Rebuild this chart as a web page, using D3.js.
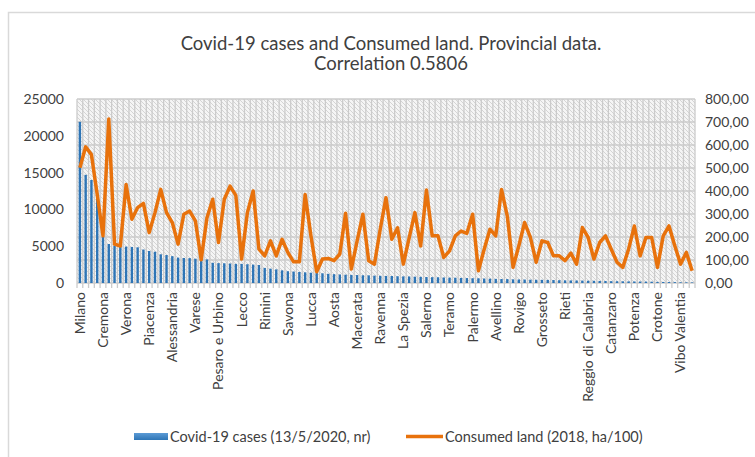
<!DOCTYPE html>
<html><head><meta charset="utf-8">
<script src="https://cdn.jsdelivr.net/npm/d3@7"></script>
<style>body{margin:0;background:#fff}svg{display:block}text{font-family:Lato,"Open Sans",sans-serif}</style>
</head><body><svg id="c" width="755" height="457"></svg>
<script>
const provinces = ["Milano","Torino","Brescia","Bergamo","Cremona","Roma","Genova","Monza e della Brianza","Verona","Pavia",
"Reggio nell'Emilia","Trento","Piacenza","Bologna","Padova","Modena","Alessandria","Treviso","Parma","Lodi",
"Varese","Bolzano","Napoli","Cuneo","Pesaro e Urbino","Venezia","Firenze","Mantova","Lecco","Novara",
"Vicenza","Como","Rimini","Asti","Sondrio","Massa Carrara","Savona","Ancona","Biella","Bari",
"Lucca","Verbano-Cusio-Ossola","Pescara","Forlì-Cesena","Aosta","Imperia","Vercelli","Trieste","Macerata","Foggia",
"Udine","Pistoia","Ravenna","Ferrara","Pisa","Perugia","La Spezia","Arezzo","Belluno","Pordenone",
"Salerno","Caserta","Catania","Prato","Teramo","Chieti","Livorno","Lecce","Palermo","Siena",
"L'Aquila","Cosenza","Avellino","Latina","Gorizia","Fermo","Rovigo","Frosinone","Taranto","Messina",
"Grosseto","Viterbo","Brindisi","Ascoli Piceno","Rieti","Barletta-Andria-Trani","Terni","Cagliari","Reggio di Calabria","Sassari",
"Campobasso","Siracusa","Catanzaro","Isernia","Benevento","Sud Sardegna","Potenza","Nuoro","Trapani","Agrigento",
"Crotone","Caltanissetta","Matera","Ragusa","Vibo Valentia","Oristano","Enna"];

const covidCases = [21900,14700,14000,12300,6250,5300,5050,5000,4950,4900,
4850,4550,4350,4250,3900,3800,3650,3450,3400,3380,
3300,3250,3200,2750,2700,2680,2650,2600,2600,2550,
2500,2450,2050,1950,1850,1720,1600,1560,1500,1450,
1400,1350,1320,1250,1200,1160,1130,1100,1080,1050,
1040,1000,980,960,950,920,900,890,860,840,
810,790,780,750,730,720,690,670,650,640,
610,590,560,540,530,500,480,470,450,440,
430,420,400,380,360,350,340,330,310,300,
280,270,250,240,230,220,210,200,190,180,
150,140,130,120,100,90,80];

const consumedLand = [501,592,558,385,205,713,169,161,428,277,
328,346,219,306,407,306,263,169,299,313,
270,101,284,364,176,364,421,381,104,306,
400,147,118,183,118,190,133,92,92,385,
205,49,104,107,97,126,303,61,183,299,
97,82,234,371,190,240,82,195,306,161,
404,205,205,111,140,205,226,216,299,53,
147,234,205,407,291,68,162,263,198,90,
183,176,118,118,97,130,82,241,198,104,
176,205,147,90,68,147,248,118,198,198,
68,205,248,162,82,133,53];

const leftTicks = [0,5000,10000,15000,20000,25000];
const rightTicks = [0,100,200,300,400,500,600,700,800];
const titleLines = ["Covid-19 cases and Consumed land. Provincial data.","Correlation 0.5806"];
const legendLabels = ["Covid-19 cases (13/5/2020, nr)","Consumed land (2018, ha/100)"];

const svg = d3.select("#c");
const L = 77, R = 695, T = 99, B = 283;
const x = d3.scaleBand().domain(provinces).range([L, R]).paddingInner(0).paddingOuter(0);
const yL = d3.scaleLinear().domain([0,25000]).range([B,T]);
const yR = d3.scaleLinear().domain([0,800]).range([B,T]);

// chart border
svg.append("rect").attr("x",8.5).attr("y",12.5).attr("width",760).attr("height",460)
  .attr("fill","#fff").attr("stroke","#d9d9d9").attr("stroke-width",1.5);

// hatch pattern
const defs = svg.append("defs");
const pat = defs.append("pattern").attr("id","hatch").attr("patternUnits","userSpaceOnUse")
  .attr("width",4).attr("height",4);
pat.append("rect").attr("width",4).attr("height",4).attr("fill","#f5f5f5");
pat.append("path").attr("d","M-1,-1 L5,5 M-1,3 L1,5 M3,-1 L5,1").attr("stroke","#d4d4d4").attr("stroke-width",1);
const grad = defs.append("linearGradient").attr("id","bg").attr("x1",0).attr("x2",0).attr("y1",0).attr("y2",1);
grad.append("stop").attr("offset",0).attr("stop-color","#5b9bd5");
grad.append("stop").attr("offset",1).attr("stop-color","#2e75b6");

svg.append("rect").attr("x",L).attr("y",T).attr("width",R-L).attr("height",B-T).attr("fill","url(#hatch)");

// vertical gridlines
const bounds = provinces.map(p => x(p)).concat([R]);
svg.append("g").selectAll("line").data(bounds).join("line")
  .attr("x1",d=>d).attr("x2",d=>d).attr("y1",T).attr("y2",B+5)
  .attr("stroke","#cbcbcb").attr("stroke-width",1.3);
// horizontal gridlines
svg.append("g").selectAll("line").data(rightTicks).join("line")
  .attr("x1",L).attr("x2",R).attr("y1",d=>yR(d)).attr("y2",d=>yR(d))
  .attr("stroke","#cbcbcb").attr("stroke-width",1.5);

// bars
const bw = 2.4;
svg.append("g").selectAll("rect").data(provinces).join("rect")
  .attr("x",(d)=>x(d)+x.bandwidth()/2-bw/2).attr("width",bw)
  .attr("y",(d,i)=>yL(covidCases[i])).attr("height",(d,i)=>B-yL(covidCases[i]))
  .attr("fill","#2e75b6");

// line
const line = d3.line().x((d,i)=>x(provinces[i])+x.bandwidth()/2).y(d=>yR(d));
svg.append("path").datum(consumedLand).attr("d",line).attr("fill","none")
  .attr("stroke","#e8720c").attr("stroke-width",3.5).attr("stroke-linejoin","round");

// left axis
svg.append("g").selectAll("text").data(leftTicks).join("text")
  .attr("x",64).attr("y",d=>yL(d)).attr("dy","0.35em").attr("text-anchor","end")
  .attr("font-size",14).attr("fill","#404040").text(d=>d);
// right axis
const fmtR = d => d3.format(".2f")(d).replace(".",",");
svg.append("g").selectAll("text").data(rightTicks).join("text")
  .attr("x",705).attr("y",d=>yR(d)).attr("dy","0.35em").attr("text-anchor","start")
  .attr("font-size",14).attr("fill","#404040").text(fmtR);

// category labels every 4th
svg.append("g").selectAll("text").data(provinces.filter((d,i)=>i%4===0)).join("text")
  .attr("transform",d=>`translate(${x(d)+x.bandwidth()/2},292) rotate(-90)`)
  .attr("dy","0.35em").attr("text-anchor","end").attr("font-size",14).attr("fill","#404040")
  .text(d=>d);

// title
svg.append("g").selectAll("text").data(titleLines).join("text")
  .attr("x",391).attr("y",(d,i)=>50+i*20).attr("text-anchor","middle")
  .attr("font-size",18.5).attr("fill","#404040").text(d=>d);

// legend
const lg = svg.append("g");
lg.append("rect").attr("x",134).attr("y",433).attr("width",34).attr("height",7).attr("fill","url(#bg)");
lg.append("text").attr("x",170).attr("y",436.5).attr("dy","0.35em").attr("font-size",14.5).attr("fill","#404040").text(legendLabels[0]);
lg.append("line").attr("x1",406).attr("x2",443).attr("y1",436.5).attr("y2",436.5).attr("stroke","#e8720c").attr("stroke-width",3.5);
lg.append("text").attr("x",445).attr("y",436.5).attr("dy","0.35em").attr("font-size",14.5).attr("fill","#404040").text(legendLabels[1]);
</script></body></html>
